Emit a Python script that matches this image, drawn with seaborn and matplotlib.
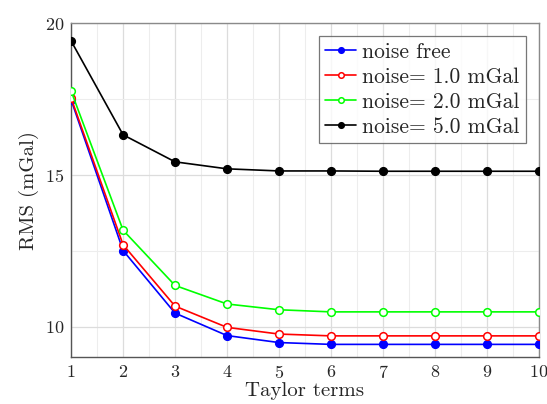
import numpy as np
import pandas as pd
import matplotlib
matplotlib.use('Agg')
import matplotlib.pyplot as plt
from matplotlib.ticker import MultipleLocator
import seaborn as sns

sns.set_theme(style='white')
plt.rcParams['font.family'] = ['cmr10', 'DejaVu Serif']
plt.rcParams['mathtext.fontset'] = 'cm'
plt.rcParams['axes.formatter.use_mathtext'] = True

# data
terms = [1, 2, 3, 4, 5, 6, 7, 8, 9, 10]
noise_free = [17.47, 12.51, 10.45, 9.71, 9.48, 9.42, 9.42, 9.42, 9.42, 9.42]
noise_1 = [17.53, 12.70, 10.68, 9.98, 9.76, 9.70, 9.70, 9.70, 9.70, 9.70]
noise_2 = [17.76, 13.18, 11.36, 10.75, 10.56, 10.49, 10.49, 10.49, 10.49, 10.49]
noise_5 = [19.41, 16.32, 15.43, 15.20, 15.13, 15.13, 15.12, 15.12, 15.12, 15.12]

labels = ['noise free', 'noise= 1.0 mGal', 'noise= 2.0 mGal', 'noise= 5.0 mGal']
series = [noise_free, noise_1, noise_2, noise_5]
colors = ['#0000ff', '#ff0000', '#00ff00', '#000000']
filled = [True, False, False, True]

df = pd.concat([pd.DataFrame({'terms': terms, 'rms': s, 'case': lab})
                for s, lab in zip(series, labels)])

fig = plt.figure(figsize=(5.47, 4.04), dpi=100)
ax = fig.add_axes([0.130, 0.116, 0.855, 0.827])

for lab, col, fill in zip(labels, colors, filled):
    d = df[df.case == lab]
    sns.lineplot(data=d, x='terms', y='rms', ax=ax, color=col, label=lab,
                 linewidth=1.2, marker='o', markersize=5.5,
                 markerfacecolor=col if fill else 'white',
                 markeredgecolor=col, markeredgewidth=1.1, zorder=3)

ax.set_xlim(1, 10)
ax.set_ylim(9, 20)
ax.xaxis.set_major_locator(MultipleLocator(1))
ax.xaxis.set_minor_locator(MultipleLocator(0.5))
ax.yaxis.set_major_locator(MultipleLocator(5))
ax.yaxis.set_minor_locator(MultipleLocator(2.5))
ax.grid(which='major', color='#dcdcdc', linewidth=0.9)
ax.grid(which='minor', color='#ededed', linewidth=0.8)
ax.set_axisbelow(True)
ax.tick_params(axis='both', which='both', length=0, labelsize=13, pad=5)

for sp in ax.spines.values():
    sp.set_color('#8a8a8a')
    sp.set_linewidth(1.0)
ax.spines['left'].set_color('#555555')
ax.spines['bottom'].set_color('#555555')

ax.set_xlabel('Taylor terms', fontsize=15, labelpad=1)
ax.set_ylabel('RMS (mGal)', fontsize=15, labelpad=4)

leg = ax.legend(loc='upper right', fontsize=15.5, frameon=True, fancybox=False,
                edgecolor='#555555', handlelength=1.4, handletextpad=0.3,
                borderpad=0.3, labelspacing=0.25, borderaxespad=0.6)
leg.get_frame().set_linewidth(0.9)
for h in leg.legend_handles:
    h.set_markersize(4)

fig.savefig('out.png', dpi=100)
